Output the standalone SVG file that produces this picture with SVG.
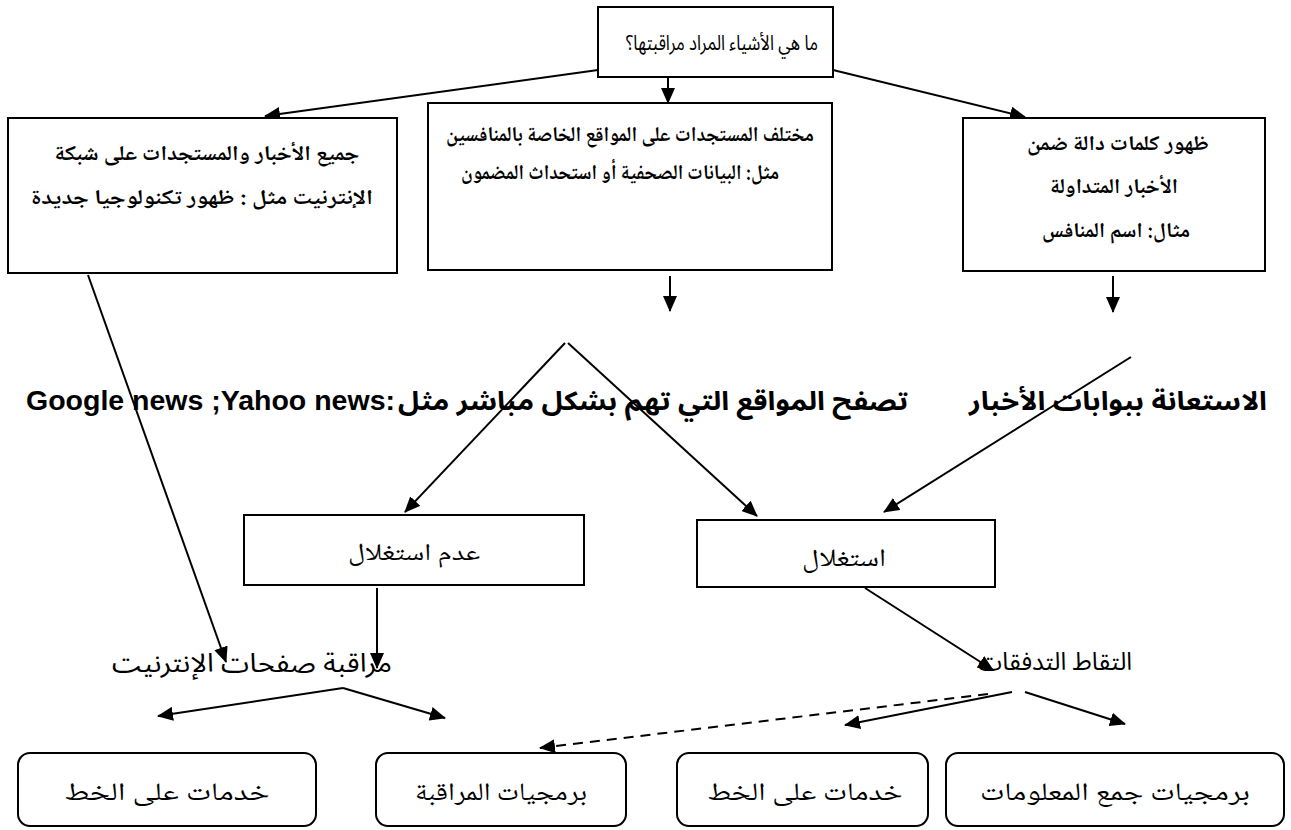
<svg xmlns="http://www.w3.org/2000/svg" width="1291" height="830" viewBox="0 0 1291 830">
<defs>
<marker id="ah" markerUnits="userSpaceOnUse" markerWidth="16" markerHeight="14" viewBox="0 0 16 14" refX="15" refY="7" orient="auto">
<path d="M0,0 L16,7 L0,14 z" fill="#000"/>
</marker>
<style>
.box{fill:#fff;stroke:#000;stroke-width:2}
.arr{fill:none;stroke:#000;stroke-width:2;marker-end:url(#ah)}
.dash{fill:none;stroke:#000;stroke-width:2;stroke-dasharray:10 7;marker-end:url(#ah)}
.sans{font-family:"Noto Sans Arabic","Liberation Sans","DejaVu Sans",sans-serif;fill:#000}
.lat{font-family:"Liberation Sans",Arial,sans-serif;fill:#000}
.naskh{font-family:"Noto Naskh Arabic","Liberation Serif","DejaVu Sans",serif;fill:#000}
.b{font-weight:bold}
</style>
</defs>
<rect width="1291" height="830" fill="#fff"/>
<g id="connectors">
<path class="arr" d="M598,70 L265,116"/>
<path class="arr" d="M668,77 L668,103"/>
<path class="arr" d="M833,70 L1025,117"/>
<path class="arr" d="M670,276 L670,311"/>
<path class="arr" d="M1113,276 L1113,312"/>
<path class="arr" d="M565,343 L405,512"/>
<path class="arr" d="M568,343 L757,516"/>
<path class="arr" d="M1131,357 L884,512"/>
<path class="arr" d="M88,275 L226,662"/>
<path class="arr" d="M377,588 L377,668"/>
<path class="arr" d="M865,588 L993,670"/>
<path class="arr" d="M343,688 L158,716"/>
<path class="arr" d="M343,688 L445,718"/>
<path class="dash" d="M988,694 L540,748"/>
<path class="arr" d="M1012,692 L845,725"/>
<path class="arr" d="M1025,692 L1125,724"/>
</g>
<g id="n-top">
<rect class="box" x="598" y="7" width="235" height="70"/>
<text class="sans" x="722" y="50" font-size="21" text-anchor="middle" direction="rtl" textLength="192" lengthAdjust="spacingAndGlyphs">ما هي الأشياء المراد مراقبتها؟</text>
</g>
<g id="n-left">
<rect class="box" x="8" y="118" width="389" height="155"/>
<text class="naskh b" x="207" y="160" font-size="21" text-anchor="middle" direction="rtl" textLength="305" lengthAdjust="spacingAndGlyphs">جميع الأخبار والمستجدات على شبكة</text>
<text class="naskh b" x="202" y="204" font-size="21" text-anchor="middle" direction="rtl" textLength="342" lengthAdjust="spacingAndGlyphs">الإنترنيت مثل : ظهور تكنولوجيا جديدة</text>
</g>
<g id="n-mid">
<rect class="box" x="428" y="103" width="404" height="167"/>
<text class="naskh b" x="630" y="141" font-size="21" text-anchor="middle" direction="rtl" textLength="368" lengthAdjust="spacingAndGlyphs">مختلف المستجدات على المواقع الخاصة بالمنافسين</text>
<text class="naskh b" x="620" y="179" font-size="21" text-anchor="middle" direction="rtl" textLength="318" lengthAdjust="spacingAndGlyphs">مثل: البيانات الصحفية أو استحداث المضمون</text>
</g>
<g id="n-right">
<rect class="box" x="963" y="118" width="302" height="153"/>
<text class="naskh b" x="1118" y="150" font-size="21" text-anchor="middle" direction="rtl" textLength="182" lengthAdjust="spacingAndGlyphs">ظهور كلمات دالة ضمن</text>
<text class="naskh b" x="1114" y="193" font-size="21" text-anchor="middle" direction="rtl" textLength="128" lengthAdjust="spacingAndGlyphs">الأخبار المتداولة</text>
<text class="naskh b" x="1116" y="237" font-size="21" text-anchor="middle" direction="rtl" textLength="148" lengthAdjust="spacingAndGlyphs">مثال: اسم المنافس</text>
</g>
<g id="n-portals">
<text class="sans b" x="1118" y="410" font-size="26" text-anchor="middle" direction="rtl" textLength="298" lengthAdjust="spacingAndGlyphs">الاستعانة ببوابات الأخبار</text>
</g>
<g id="n-browse">
<text class="lat b" x="26" y="410" font-size="28.5">Google news ;Yahoo news:</text>
<text class="sans b" x="653" y="410" font-size="26" text-anchor="middle" direction="rtl" textLength="510" lengthAdjust="spacingAndGlyphs">تصفح المواقع التي تهم بشكل مباشر مثل</text>
</g>
<g id="n-noexploit">
<rect class="box" x="244" y="515" width="340" height="70"/>
<text class="naskh" x="414" y="560" font-size="24" text-anchor="middle" direction="rtl" textLength="132" lengthAdjust="spacingAndGlyphs">عدم استغلال</text>
</g>
<g id="n-exploit">
<rect class="box" x="697" y="520" width="298" height="67"/>
<text class="naskh" x="844" y="566" font-size="25" text-anchor="middle" direction="rtl" textLength="84" lengthAdjust="spacingAndGlyphs">استغلال</text>
</g>
<g id="n-monitor">
<text class="sans" x="252" y="672" font-size="26" text-anchor="middle" direction="rtl" textLength="280" lengthAdjust="spacingAndGlyphs">مراقبة صفحات الإنترنيت</text>
</g>
<g id="n-capture">
<text class="sans" x="1055" y="670" font-size="25" text-anchor="middle" direction="rtl" textLength="154" lengthAdjust="spacingAndGlyphs">التقاط التدفقات</text>
</g>
<g id="n-b1">
<rect class="box" x="18" y="753" width="298" height="73" rx="12"/>
<text class="naskh" x="167" y="800" font-size="25" text-anchor="middle" direction="rtl" textLength="205" lengthAdjust="spacingAndGlyphs">خدمات على الخط</text>
</g>
<g id="n-b2">
<rect class="box" x="376" y="753" width="250" height="73" rx="12"/>
<text class="naskh" x="501" y="800" font-size="25" text-anchor="middle" direction="rtl" textLength="172" lengthAdjust="spacingAndGlyphs">برمجيات المراقبة</text>
</g>
<g id="n-b3">
<rect class="box" x="677" y="753" width="251" height="73" rx="12"/>
<text class="naskh" x="805" y="800" font-size="25" text-anchor="middle" direction="rtl" textLength="195" lengthAdjust="spacingAndGlyphs">خدمات على الخط</text>
</g>
<g id="n-b4">
<rect class="box" x="946" y="753" width="338" height="73" rx="12"/>
<text class="naskh" x="1115" y="800" font-size="25" text-anchor="middle" direction="rtl" textLength="270" lengthAdjust="spacingAndGlyphs">برمجيات جمع المعلومات</text>
</g>
</svg>
